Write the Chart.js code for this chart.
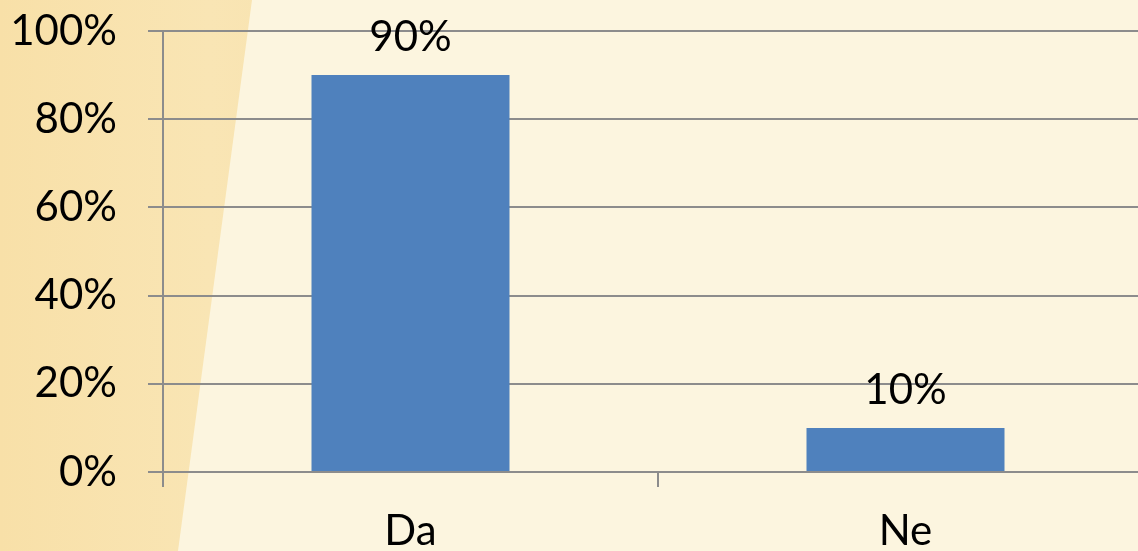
<!DOCTYPE html>
<html>
<head>
<meta charset="utf-8">
<script src="https://cdn.jsdelivr.net/npm/chart.js@4/dist/chart.umd.min.js"></script>
<style>
	html, body { margin: 0; padding: 0; width: 1138px; height: 551px; overflow: hidden; background: #fcf5df; }
	#stripe {
		position: absolute; left: 0; top: 0; width: 300px; height: 551px;
		background: linear-gradient(90deg, #f8e0a8 0%, #f9e5b4 70%, #f8e3b0 100%);
		clip-path: polygon(0 0, 252px 0, 178px 551px, 0 551px);
	}
	#wrap { position: absolute; left: 0; top: 0; width: 1160px; height: 551px; }
</style>
</head>
<body>
<div id="stripe"></div>
<div id="wrap"><canvas id="barChart"></canvas></div>
<script>
var categories = ['Da', 'Ne'];
var values = [90, 10];
var yTicks = [0, 20, 40, 60, 80, 100];

var FONT = 'Lato, "Open Sans", sans-serif';

// labels above the bars
var valueLabels = {
	id: 'valueLabels',
	afterDatasetsDraw: function(chart) {
		var ctx = chart.ctx;
		var meta = chart.getDatasetMeta(0);
		ctx.save();
		ctx.fillStyle = '#000';
		ctx.font = '42px ' + FONT;
		ctx.textAlign = 'center';
		ctx.textBaseline = 'alphabetic';
		meta.data.forEach(function(bar, i) {
			ctx.fillText(values[i] + '%', bar.x, bar.y - 24);
		});
		ctx.restore();
	}
};

var barChartCanvas = document.getElementById('barChart').getContext('2d');
var barChart = new Chart(barChartCanvas, {
	type: 'bar',
	data: {
		labels: categories,
		datasets: [{
			data: values,
			backgroundColor: '#4f81bd',
			borderWidth: 0,
			categoryPercentage: 0.4,
			barPercentage: 1
		}]
	},
	options: {
		responsive: true,
		maintainAspectRatio: false,
		animation: false,
		layout: { padding: { top: 31, right: 7, left: 0, bottom: 0 } },
		plugins: {
			legend: { display: false },
			tooltip: { enabled: false }
		},
		scales: {
			x: {
				grid: {
					offset: true,
					drawOnChartArea: false,
					color: '#8c8c8c',
					lineWidth: 2,
					tickLength: 15
				},
				border: { color: '#8c8c8c', width: 2 },
				ticks: {
					color: '#000',
					font: { family: FONT, size: 42 },
					padding: 19
				},
				afterFit: function(scale) {
					scale.height = 79;
					scale.paddingLeft = 0;
					scale.paddingRight = 0;
				}
			},
			y: {
				min: 0,
				max: 100,
				afterBuildTicks: function(scale) {
					scale.ticks = yTicks.map(function(v) { return { value: v }; });
				},
				grid: {
					color: '#8c8c8c',
					lineWidth: 2,
					tickLength: 15
				},
				border: { color: '#8c8c8c', width: 2 },
				ticks: {
					color: '#000',
					font: { family: FONT, size: 42 },
					padding: 31,
					callback: function(v) { return v + '%'; }
				},
				afterFit: function(scale) {
					scale.width = 163;
					scale.paddingTop = 0;
					scale.paddingBottom = 0;
				}
			}
		}
	},
	plugins: [valueLabels]
});
</script>
</body>
</html>
